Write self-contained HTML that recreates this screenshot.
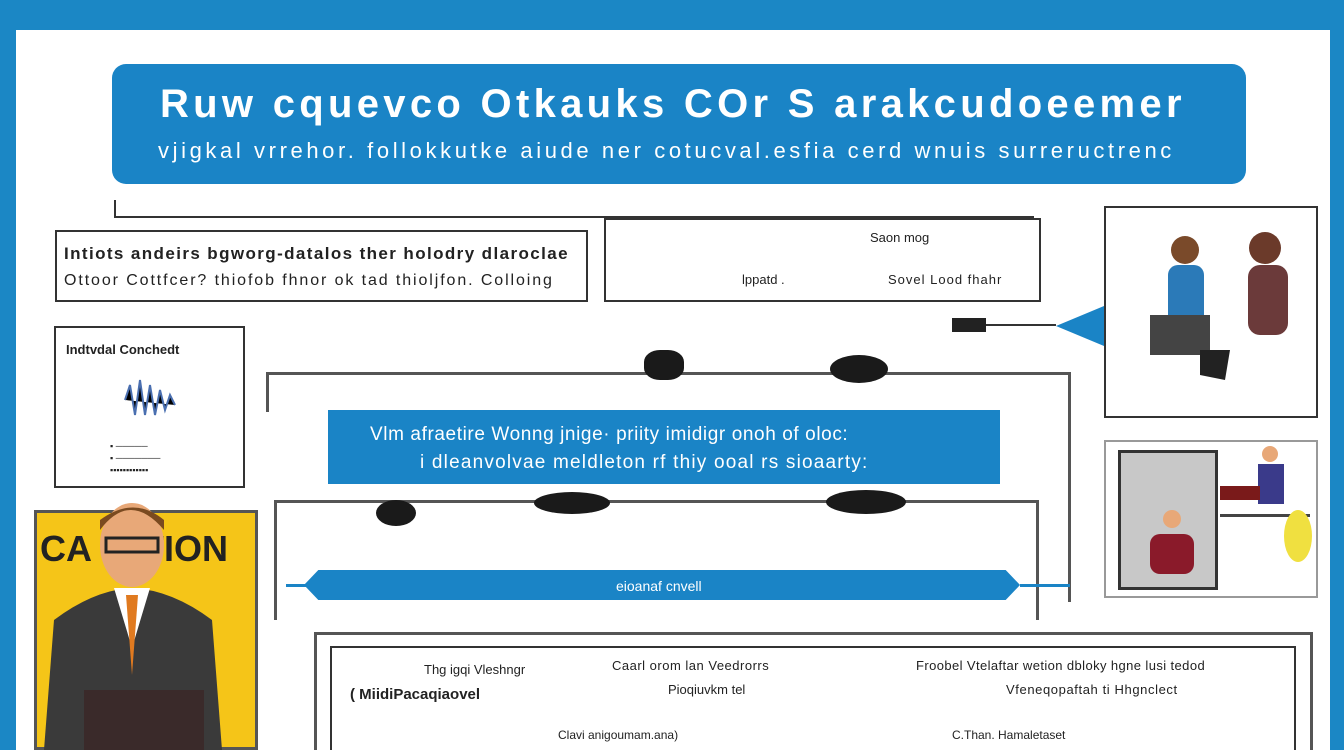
<!DOCTYPE html>
<html><head><meta charset="utf-8"><style>
*{margin:0;padding:0;box-sizing:border-box}
html,body{width:1344px;height:750px;overflow:hidden}
body{background:#1b87c5;font-family:"Liberation Sans",sans-serif;position:relative}
.a{position:absolute}
.w{background:#fff}
.bx{position:absolute;border:2px solid #333;background:#fff}
.t{position:absolute;white-space:nowrap;color:#222}
</style></head><body>
<div class="a w" style="left:16px;top:30px;width:1314px;height:720px"></div>
<div class="a" style="left:112px;top:64px;width:1134px;height:120px;background:#1a84c6;border-radius:14px"></div>
<div class="t" style="left:160px;top:82px;font-size:40px;font-weight:bold;color:#fff;letter-spacing:4.3px">Ruw cquevco Otkauks COr S arakcudoeemer</div>
<div class="t" style="left:158px;top:138px;font-size:22px;color:#fff;letter-spacing:3.6px">vjigkal vrrehor.  follokkutke aiude ner cotucval.esfia cerd wnuis surreructrenc</div>
<div class="a" style="left:114px;top:200px;width:2px;height:18px;background:#333"></div>
<div class="a" style="left:114px;top:216px;width:920px;height:2px;background:#333"></div>
<div class="bx" style="left:55px;top:230px;width:533px;height:72px"></div>
<div class="t" style="left:64px;top:244px;font-size:17px;font-weight:bold;letter-spacing:1.4px">Intiots andeirs bgworg-datalos ther holodry dlaroclae</div>
<div class="t" style="left:64px;top:272px;font-size:16px;letter-spacing:1.9px">Ottoor Cottfcer? thiofob fhnor ok tad thioljfon. Colloing</div>
<div class="bx" style="left:604px;top:218px;width:437px;height:84px"></div>
<div class="t" style="left:870px;top:230px;font-size:13px">Saon mog</div>
<div class="t" style="left:742px;top:272px;font-size:13px">lppatd .</div>
<div class="t" style="left:888px;top:272px;font-size:13px;letter-spacing:1px">Sovel Lood fhahr</div>
<div class="bx" style="left:1104px;top:206px;width:214px;height:212px"></div>
<svg class="a" style="left:1140px;top:220px" width="170" height="170"><circle cx="45" cy="30" r="14" fill="#7a4a2a"/><rect x="28" y="45" width="36" height="60" rx="10" fill="#2b7ab8"/><circle cx="125" cy="28" r="16" fill="#6b3a2a"/><rect x="108" y="45" width="40" height="70" rx="12" fill="#6b3a3a"/><rect x="10" y="95" width="60" height="40" fill="#444"/><path d="M60 130 l30 0 l-5 30 l-25 -5z" fill="#222"/></svg>
<div class="a" style="left:952px;top:318px;width:34px;height:14px;background:#222"></div>
<div class="a" style="left:986px;top:324px;width:70px;height:2px;background:#333"></div>
<div class="a" style="left:1056px;top:306px;width:0;height:0;border-top:20px solid transparent;border-bottom:20px solid transparent;border-right:48px solid #1a84c6"></div>
<div class="bx" style="left:54px;top:326px;width:191px;height:162px"></div>
<div class="t" style="left:66px;top:342px;font-size:13px;font-weight:bold">Indtvdal Conchedt</div>
<svg class="a" style="left:120px;top:370px" width="70" height="60"><g stroke="#4a6fb0" stroke-width="2"><path d="M5 30 l5 -15 l5 30 l5 -35 l5 35 l5 -30 l5 30 l5 -25 l5 20 l5 -15 l5 10"/></g></svg>
<div class="t" style="left:110px;top:440px;font-size:9px;line-height:12px">▪ ─────<br>▪ ───────<br>▪▪▪▪▪▪▪▪▪▪▪▪</div>
<div class="a" style="left:34px;top:510px;width:224px;height:240px;background:#f5c518;border:3px solid #555"></div>
<div class="t" style="left:40px;top:528px;font-size:36px;font-weight:bold;color:#222">CA&nbsp;&nbsp;&nbsp;&nbsp;&nbsp;TION</div>
<svg class="a" style="left:34px;top:500px" width="224" height="250"><ellipse cx="98" cy="45" rx="32" ry="42" fill="#e8a878"/><path d="M66 30 q30 -40 64 0 l0 -10 q-30 -25 -64 0z" fill="#7a4a20"/><rect x="72" y="38" width="52" height="14" fill="none" stroke="#222" stroke-width="3"/><path d="M10 250 l10 -130 q40 -30 78 -32 q40 2 80 32 l10 130z" fill="#3a3a3a"/><path d="M80 88 l18 60 l18 -60z" fill="#fff"/><path d="M92 95 l6 80 l6 -80z" fill="#e07a20"/><rect x="50" y="190" width="120" height="60" fill="#3a2a2a"/></svg>
<div class="a" style="left:266px;top:372px;width:804px;height:3px;background:#555"></div>
<div class="a" style="left:266px;top:372px;width:3px;height:40px;background:#555"></div>
<div class="a" style="left:1068px;top:372px;width:3px;height:230px;background:#555"></div>
<div class="a" style="left:644px;top:350px;width:40px;height:30px;background:#1a1a1a;border-radius:40%"></div>
<div class="a" style="left:830px;top:355px;width:58px;height:28px;background:#1a1a1a;border-radius:50%"></div>
<div class="a" style="left:328px;top:410px;width:672px;height:74px;background:#1a84c6"></div>
<div class="t" style="left:370px;top:424px;font-size:19px;color:#fff;letter-spacing:0.6px">Vlm afraetire Wonng jnige·  priity imidigr onoh of oloc:</div>
<div class="t" style="left:420px;top:452px;font-size:19px;color:#fff;letter-spacing:1.2px">i dleanvolvae meldleton  rf thiy ooal rs sioaarty:</div>
<div class="a" style="left:274px;top:500px;width:764px;height:3px;background:#555"></div>
<div class="a" style="left:274px;top:500px;width:3px;height:120px;background:#555"></div>
<div class="a" style="left:1036px;top:500px;width:3px;height:120px;background:#555"></div>
<div class="a" style="left:376px;top:500px;width:40px;height:26px;background:#1a1a1a;border-radius:50%"></div>
<div class="a" style="left:534px;top:492px;width:76px;height:22px;background:#1a1a1a;border-radius:50%"></div>
<div class="a" style="left:826px;top:490px;width:80px;height:24px;background:#1a1a1a;border-radius:50%"></div>
<div class="a" style="left:304px;top:570px;width:716px;height:30px;background:#1a84c6;clip-path:polygon(2% 0,98% 0,100% 50%,98% 100%,2% 100%,0 50%)"></div>
<div class="a" style="left:286px;top:584px;width:20px;height:3px;background:#1a84c6"></div>
<div class="a" style="left:1020px;top:584px;width:50px;height:3px;background:#1a84c6"></div>
<div class="t" style="left:616px;top:578px;font-size:14px;color:#fff">eioanaf cnvell</div>
<div class="bx" style="left:1104px;top:440px;width:214px;height:158px;border-width:2px;border-color:#999"></div>
<div class="a" style="left:1118px;top:450px;width:100px;height:140px;background:#c8c8c8;border:3px solid #333"></div>
<svg class="a" style="left:1120px;top:444px" width="196" height="150"><circle cx="150" cy="10" r="8" fill="#e8a878"/><rect x="138" y="20" width="26" height="40" fill="#3a3a8a"/><rect x="100" y="42" width="40" height="14" fill="#7a1a1a"/><circle cx="52" cy="75" r="9" fill="#e8a878"/><rect x="30" y="90" width="44" height="40" rx="10" fill="#8a1a2a"/><rect x="100" y="70" width="90" height="3" fill="#444"/><ellipse cx="178" cy="92" rx="14" ry="26" fill="#f0e040"/></svg>
<div class="a" style="left:314px;top:632px;width:999px;height:3px;background:#555"></div>
<div class="a" style="left:314px;top:632px;width:3px;height:118px;background:#555"></div>
<div class="a" style="left:1310px;top:632px;width:3px;height:118px;background:#555"></div>
<div class="a" style="left:330px;top:646px;width:966px;height:104px;border:2px solid #333;border-bottom:none;background:#fff"></div>
<div class="t" style="left:424px;top:662px;font-size:13px">Thg igqi Vleshngr</div>
<div class="t" style="left:350px;top:686px;font-size:15px;font-weight:bold">( MiidiPacaqiaovel</div>
<div class="t" style="left:612px;top:658px;font-size:13px;letter-spacing:0.5px">Caarl orom  lan Veedrorrs</div>
<div class="t" style="left:668px;top:682px;font-size:13px">Pioqiuvkm tel</div>
<div class="t" style="left:916px;top:658px;font-size:13px;letter-spacing:0.4px">Froobel Vtelaftar wetion dbloky hgne lusi tedod</div>
<div class="t" style="left:1006px;top:682px;font-size:13px;letter-spacing:0.6px">Vfeneqopaftah ti Hhgnclect</div>
<div class="t" style="left:558px;top:728px;font-size:12px">Clavi anigoumam.ana)</div>
<div class="t" style="left:952px;top:728px;font-size:12px">C.Than. Hamaletaset</div>
</body></html>
